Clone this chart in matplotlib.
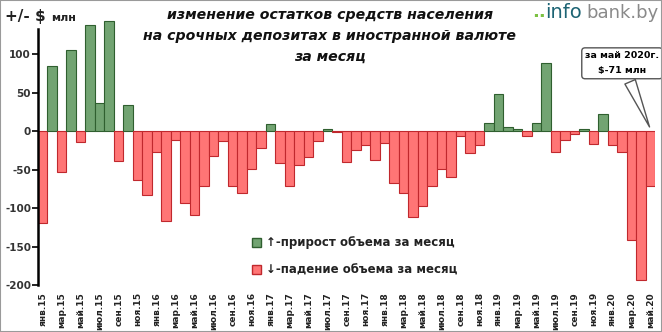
import matplotlib.pyplot as plt
from matplotlib.patches import Patch, Rectangle

# данные: изменение остатков, млн $ (янв.2015 - май.2020)
months = ['янв', 'фев', 'мар', 'апр', 'май', 'июн', 'июл', 'авг', 'сен', 'окт', 'ноя', 'дек']
years = ['15', '16', '17', '18', '19', '20']
values = [-120, 85, -53, 105, -14, 138, 37, 143, -39, 34, -64, -83,
          -27, -117, -11, -93, -109, -71, -32, -13, -71, -81, -49, -22,
          9, -42, -71, -44, -34, -13, 2, -1, -40, -24, -18, -37,
          -15, -67, -80, -112, -97, -72, -49, -60, -6, -28, -18, 11,
          48, 5, 3, -7, 11, 89, -27, -11, -4, 2, -17, 22,
          -18, -27, -141, -193, -71]
labels = [m + '.' + y for y in years for m in months][:len(values)]
yticks = [-200, -150, -100, -50, 0, 50, 100]

green, green_edge = '#72a472', '#2f5f2f'
red, red_edge = '#ff7575', '#c0282d'

fig = plt.figure(figsize=(6.62, 3.32), dpi=100)
ax = fig.add_axes([0.0574, 0.1416, 0.9326, 0.8115])

x = list(range(1, len(values) + 1))
colors = [green if v > 0 else red for v in values]
edges = [green_edge if v > 0 else red_edge for v in values]
ax.bar(x, values, width=1.0, color=colors, edgecolor=edges, linewidth=0.8)

ax.set_xlim(0.5, len(values) + 0.5)
ax.set_ylim(-200, 150)
ax.set_yticks(yticks)
ax.set_yticklabels([str(t) for t in yticks], fontsize=7.5, fontweight='bold', color='#333333')
ax.set_xticks(x[::2])
ax.set_xticklabels(labels[::2], rotation=90, fontsize=6.5, fontweight='bold', color='#222222')
ax.tick_params(axis='x', length=0, pad=5)
ax.tick_params(axis='y', length=4, width=1.2, pad=1)
for s in ['top', 'right', 'bottom']:
    ax.spines[s].set_visible(False)
ax.spines['left'].set_linewidth(1.8)
ax.spines['left'].set_bounds(-200, 132)

# заголовок
title = 'изменение остатков средств населения\nна срочных депозитах в иностранной валюте\nза месяц'
fig.text(0.498, 0.976, title, ha='center', va='top', fontsize=10.2, fontweight='bold',
         fontstyle='italic', color='#111111', linespacing=1.65)

fig.text(0.008, 0.95, '+/- $', ha='left', va='center', fontsize=11, fontweight='bold', color='#222222')
fig.text(0.077, 0.947, 'млн', ha='left', va='center', fontsize=8, fontweight='bold', color='#222222')

# логотип
fig.text(0.804, 0.965, '..', ha='left', va='center', fontsize=13, color='#7cc142', fontweight='bold')
fig.text(0.824, 0.962, 'info', ha='left', va='center', fontsize=14, color='#1d6474')
fig.text(0.886, 0.962, 'bank.by', ha='left', va='center', fontsize=13, color='#8a8a8a')

# выноска
ax.annotate('за май 2020г.\n$' + str(values[-1]) + ' млн', xy=(len(values), 2), xytext=(62.0, 88),
            ha='center', va='center', fontsize=6.8, fontweight='bold', linespacing=1.9,
            bbox=dict(boxstyle='round,pad=0.35', fc='white', ec='#555555', lw=1),
            arrowprops=dict(arrowstyle='wedge,tail_width=1.2', fc='white', ec='#555555', lw=1))

handles = [Patch(facecolor=green, edgecolor=green_edge), Patch(facecolor=red, edgecolor=red_edge)]
leg = ax.legend(handles, ['↑-прирост объема за месяц', '↓-падение объема за месяц'],
                loc='upper left', bbox_to_anchor=(0.339, 0.198), frameon=False,
                handlelength=0.8, handleheight=0.8, handletextpad=0.4, labelspacing=1.2,
                borderaxespad=0, prop={'size': 8.5, 'weight': 'bold'})
for t in leg.get_texts():
    t.set_color('#222222')

fig.patches.append(Rectangle((0, 0), 1, 1, transform=fig.transFigure, fill=False,
                             ec='#9a9a9a', lw=1.5))

fig.savefig('out.png', dpi=100)
